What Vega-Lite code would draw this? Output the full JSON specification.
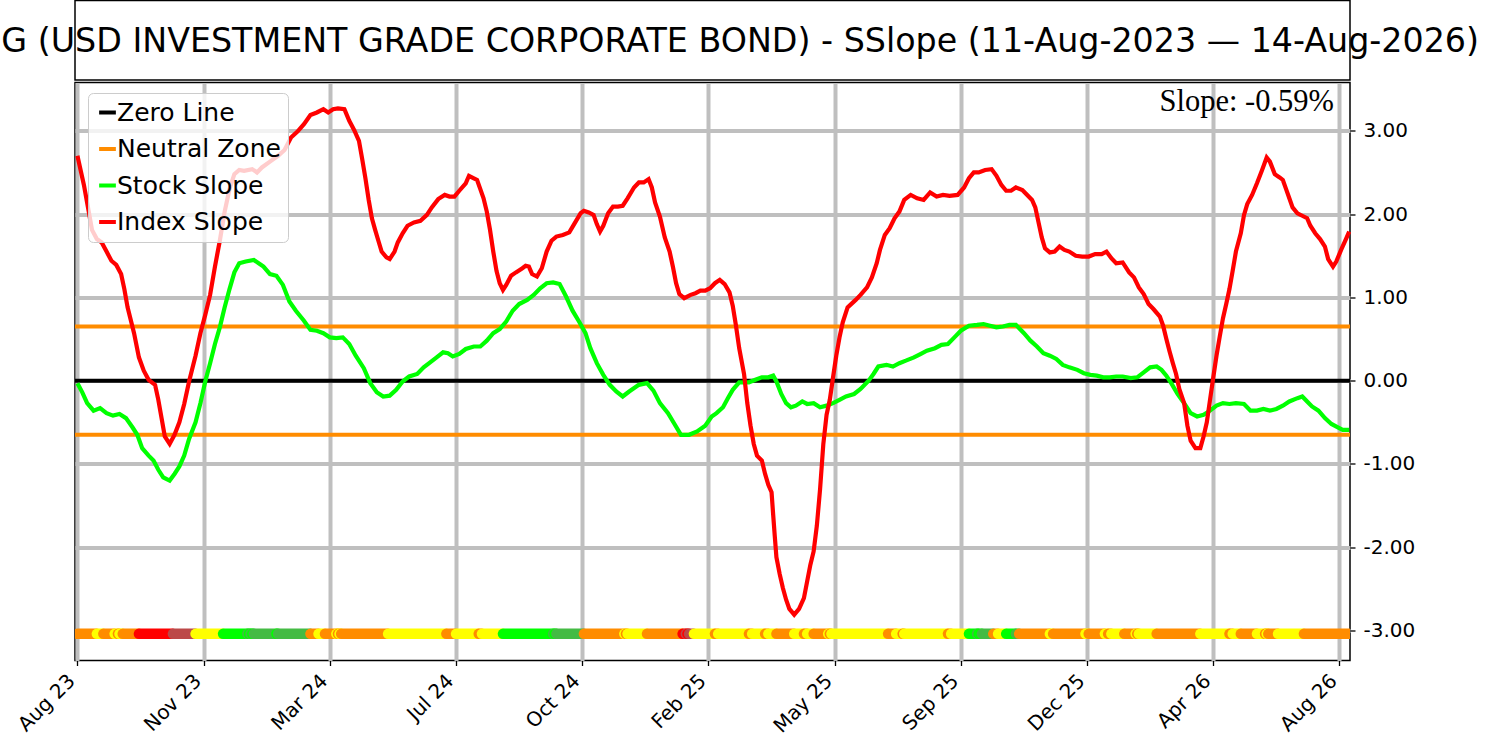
{
  "$schema": "https://vega.github.io/schema/vega-lite/v6.json",
  "padding": {"left": -55, "top": -0.5, "right": 5, "bottom": 0},
  "background": "white",
  "spacing": 0,
  "config": {
    "view": {"stroke": "black", "strokeWidth": 1.5},
    "axis": {"labelFont": "DejaVu Sans", "labelFontSize": 20, "labelColor": "black", "tickColor": "black", "tickWidth": 1.3, "tickSize": 5, "domain": false, "gridColor": "#bfbfbf", "gridWidth": 4, "gridOpacity": 1}
  },
  "datasets": {
    "levels": [
      {"level": "Zero Line", "y": 0},
      {"level": "Neutral Zone", "y": 0.65},
      {"level": "Neutral Zone", "y": -0.65}
    ],
    "index": [
      {"day":0,"value":2.70},{"day":4,"value":2.35},{"day":7,"value":2.03},{"day":9,"value":1.81},{"day":12,"value":1.70},{"day":15,"value":1.66},{"day":18,"value":1.55},{"day":21,"value":1.44},{"day":24,"value":1.39},{"day":27,"value":1.28},{"day":29,"value":1.10},{"day":31,"value":0.88},{"day":35,"value":0.57},{"day":38,"value":0.28},{"day":41,"value":0.12},{"day":44,"value":0.01},{"day":48,"value":-0.05},{"day":50,"value":-0.23},{"day":52,"value":-0.45},{"day":54,"value":-0.67},{"day":57,"value":-0.76},{"day":60,"value":-0.65},{"day":63,"value":-0.50},{"day":66,"value":-0.28},{"day":69,"value":-0.01},{"day":73,"value":0.30},{"day":76,"value":0.57},{"day":79,"value":0.79},{"day":82,"value":1.03},{"day":85,"value":1.37},{"day":88,"value":1.68},{"day":91,"value":2.03},{"day":94,"value":2.30},{"day":97,"value":2.48},{"day":100,"value":2.53},{"day":103,"value":2.52},{"day":108,"value":2.54},{"day":111,"value":2.50},{"day":114,"value":2.56},{"day":119,"value":2.63},{"day":124,"value":2.70},{"day":128,"value":2.77},{"day":132,"value":2.92},{"day":136,"value":2.99},{"day":140,"value":3.08},{"day":144,"value":3.19},{"day":148,"value":3.22},{"day":152,"value":3.26},{"day":155,"value":3.22},{"day":158,"value":3.26},{"day":161,"value":3.27},{"day":165,"value":3.26},{"day":168,"value":3.12},{"day":171,"value":3.01},{"day":174,"value":2.88},{"day":176,"value":2.66},{"day":178,"value":2.43},{"day":180,"value":2.17},{"day":182,"value":1.95},{"day":184,"value":1.81},{"day":186,"value":1.68},{"day":188,"value":1.55},{"day":191,"value":1.48},{"day":193,"value":1.46},{"day":196,"value":1.55},{"day":198,"value":1.66},{"day":201,"value":1.77},{"day":204,"value":1.86},{"day":208,"value":1.90},{"day":212,"value":1.92},{"day":216,"value":1.99},{"day":219,"value":2.08},{"day":223,"value":2.18},{"day":227,"value":2.23},{"day":230,"value":2.21},{"day":233,"value":2.21},{"day":236,"value":2.28},{"day":240,"value":2.37},{"day":242,"value":2.46},{"day":245,"value":2.43},{"day":247,"value":2.41},{"day":249,"value":2.30},{"day":251,"value":2.19},{"day":253,"value":2.03},{"day":255,"value":1.81},{"day":257,"value":1.55},{"day":259,"value":1.32},{"day":261,"value":1.17},{"day":263,"value":1.09},{"day":265,"value":1.15},{"day":268,"value":1.26},{"day":271,"value":1.30},{"day":275,"value":1.35},{"day":277,"value":1.38},{"day":279,"value":1.37},{"day":281,"value":1.28},{"day":284,"value":1.25},{"day":287,"value":1.35},{"day":290,"value":1.55},{"day":293,"value":1.68},{"day":296,"value":1.73},{"day":300,"value":1.75},{"day":304,"value":1.78},{"day":307,"value":1.88},{"day":311,"value":2.01},{"day":313,"value":2.04},{"day":316,"value":2.02},{"day":319,"value":1.99},{"day":321,"value":1.88},{"day":323,"value":1.79},{"day":325,"value":1.86},{"day":328,"value":2.01},{"day":331,"value":2.09},{"day":334,"value":2.09},{"day":337,"value":2.10},{"day":340,"value":2.19},{"day":344,"value":2.32},{"day":347,"value":2.38},{"day":350,"value":2.38},{"day":353,"value":2.42},{"day":355,"value":2.32},{"day":357,"value":2.14},{"day":360,"value":1.97},{"day":363,"value":1.72},{"day":366,"value":1.55},{"day":368,"value":1.37},{"day":370,"value":1.17},{"day":372,"value":1.04},{"day":375,"value":0.99},{"day":379,"value":1.03},{"day":382,"value":1.05},{"day":385,"value":1.08},{"day":388,"value":1.08},{"day":391,"value":1.11},{"day":394,"value":1.17},{"day":397,"value":1.21},{"day":400,"value":1.16},{"day":403,"value":1.06},{"day":405,"value":0.90},{"day":407,"value":0.66},{"day":409,"value":0.39},{"day":412,"value":0.08},{"day":414,"value":-0.27},{"day":416,"value":-0.54},{"day":418,"value":-0.76},{"day":420,"value":-0.90},{"day":423,"value":-0.96},{"day":425,"value":-1.12},{"day":427,"value":-1.25},{"day":429,"value":-1.34},{"day":430,"value":-1.61},{"day":431,"value":-1.87},{"day":432,"value":-2.12},{"day":434,"value":-2.32},{"day":436,"value":-2.49},{"day":438,"value":-2.63},{"day":440,"value":-2.74},{"day":443,"value":-2.81},{"day":446,"value":-2.74},{"day":449,"value":-2.61},{"day":451,"value":-2.41},{"day":453,"value":-2.21},{"day":455,"value":-2.05},{"day":457,"value":-1.74},{"day":459,"value":-1.30},{"day":461,"value":-0.76},{"day":463,"value":-0.41},{"day":465,"value":-0.23},{"day":467,"value":0.04},{"day":469,"value":0.30},{"day":471,"value":0.52},{"day":473,"value":0.70},{"day":476,"value":0.88},{"day":481,"value":0.97},{"day":484,"value":1.03},{"day":488,"value":1.12},{"day":491,"value":1.24},{"day":494,"value":1.41},{"day":496,"value":1.57},{"day":499,"value":1.75},{"day":502,"value":1.83},{"day":505,"value":1.95},{"day":508,"value":2.03},{"day":511,"value":2.17},{"day":515,"value":2.23},{"day":519,"value":2.19},{"day":523,"value":2.17},{"day":527,"value":2.26},{"day":531,"value":2.21},{"day":535,"value":2.23},{"day":539,"value":2.22},{"day":544,"value":2.23},{"day":548,"value":2.32},{"day":551,"value":2.43},{"day":554,"value":2.50},{"day":557,"value":2.50},{"day":561,"value":2.53},{"day":565,"value":2.54},{"day":568,"value":2.46},{"day":571,"value":2.35},{"day":574,"value":2.28},{"day":577,"value":2.28},{"day":580,"value":2.32},{"day":584,"value":2.29},{"day":587,"value":2.23},{"day":590,"value":2.17},{"day":592,"value":2.08},{"day":594,"value":1.90},{"day":596,"value":1.72},{"day":598,"value":1.59},{"day":601,"value":1.54},{"day":604,"value":1.55},{"day":607,"value":1.61},{"day":610,"value":1.57},{"day":613,"value":1.55},{"day":617,"value":1.50},{"day":621,"value":1.49},{"day":625,"value":1.49},{"day":629,"value":1.52},{"day":633,"value":1.52},{"day":636,"value":1.55},{"day":639,"value":1.47},{"day":642,"value":1.41},{"day":646,"value":1.42},{"day":650,"value":1.30},{"day":653,"value":1.24},{"day":656,"value":1.12},{"day":659,"value":1.04},{"day":662,"value":0.92},{"day":665,"value":0.86},{"day":669,"value":0.77},{"day":671,"value":0.66},{"day":673,"value":0.50},{"day":675,"value":0.35},{"day":677,"value":0.21},{"day":679,"value":0.08},{"day":681,"value":-0.10},{"day":684,"value":-0.27},{"day":686,"value":-0.54},{"day":688,"value":-0.72},{"day":691,"value":-0.81},{"day":694,"value":-0.81},{"day":696,"value":-0.67},{"day":698,"value":-0.50},{"day":700,"value":-0.23},{"day":702,"value":0.04},{"day":704,"value":0.30},{"day":706,"value":0.53},{"day":708,"value":0.75},{"day":710,"value":0.92},{"day":712,"value":1.10},{"day":714,"value":1.32},{"day":716,"value":1.55},{"day":719,"value":1.77},{"day":721,"value":1.99},{"day":723,"value":2.12},{"day":726,"value":2.23},{"day":729,"value":2.37},{"day":732,"value":2.52},{"day":735,"value":2.68},{"day":737,"value":2.63},{"day":740,"value":2.48},{"day":743,"value":2.44},{"day":745,"value":2.41},{"day":747,"value":2.30},{"day":749,"value":2.19},{"day":751,"value":2.08},{"day":754,"value":2.01},{"day":757,"value":1.98},{"day":760,"value":1.95},{"day":762,"value":1.86},{"day":765,"value":1.77},{"day":768,"value":1.70},{"day":771,"value":1.61},{"day":773,"value":1.46},{"day":776,"value":1.37},{"day":778,"value":1.43},{"day":781,"value":1.57},{"day":784,"value":1.70},{"day":786,"value":1.79}
    ],
    "stock": [
      {"day":0,"value":-0.03},{"day":3,"value":-0.14},{"day":6,"value":-0.27},{"day":10,"value":-0.36},{"day":14,"value":-0.33},{"day":18,"value":-0.39},{"day":22,"value":-0.42},{"day":26,"value":-0.40},{"day":30,"value":-0.45},{"day":34,"value":-0.56},{"day":37,"value":-0.65},{"day":40,"value":-0.81},{"day":44,"value":-0.90},{"day":47,"value":-0.96},{"day":50,"value":-1.07},{"day":53,"value":-1.16},{"day":57,"value":-1.20},{"day":60,"value":-1.12},{"day":63,"value":-1.03},{"day":66,"value":-0.90},{"day":69,"value":-0.70},{"day":73,"value":-0.50},{"day":76,"value":-0.27},{"day":79,"value":-0.01},{"day":82,"value":0.21},{"day":85,"value":0.44},{"day":88,"value":0.64},{"day":91,"value":0.88},{"day":94,"value":1.10},{"day":97,"value":1.30},{"day":100,"value":1.41},{"day":104,"value":1.43},{"day":109,"value":1.45},{"day":112,"value":1.41},{"day":115,"value":1.37},{"day":119,"value":1.28},{"day":123,"value":1.26},{"day":127,"value":1.15},{"day":131,"value":0.95},{"day":135,"value":0.84},{"day":140,"value":0.72},{"day":144,"value":0.61},{"day":148,"value":0.60},{"day":152,"value":0.57},{"day":156,"value":0.52},{"day":160,"value":0.51},{"day":164,"value":0.52},{"day":168,"value":0.44},{"day":172,"value":0.30},{"day":177,"value":0.15},{"day":181,"value":-0.03},{"day":185,"value":-0.14},{"day":189,"value":-0.19},{"day":193,"value":-0.18},{"day":197,"value":-0.11},{"day":201,"value":-0.01},{"day":205,"value":0.05},{"day":210,"value":0.08},{"day":214,"value":0.16},{"day":218,"value":0.22},{"day":222,"value":0.28},{"day":226,"value":0.34},{"day":229,"value":0.33},{"day":232,"value":0.29},{"day":236,"value":0.32},{"day":240,"value":0.38},{"day":245,"value":0.41},{"day":249,"value":0.41},{"day":253,"value":0.48},{"day":257,"value":0.57},{"day":261,"value":0.62},{"day":265,"value":0.71},{"day":269,"value":0.84},{"day":273,"value":0.92},{"day":278,"value":0.97},{"day":282,"value":1.03},{"day":286,"value":1.11},{"day":290,"value":1.17},{"day":294,"value":1.18},{"day":298,"value":1.16},{"day":302,"value":1.01},{"day":306,"value":0.84},{"day":310,"value":0.71},{"day":314,"value":0.57},{"day":317,"value":0.39},{"day":321,"value":0.21},{"day":325,"value":0.07},{"day":329,"value":-0.05},{"day":333,"value":-0.13},{"day":337,"value":-0.19},{"day":341,"value":-0.13},{"day":347,"value":-0.05},{"day":352,"value":-0.03},{"day":356,"value":-0.12},{"day":360,"value":-0.27},{"day":365,"value":-0.39},{"day":369,"value":-0.52},{"day":373,"value":-0.65},{"day":378,"value":-0.65},{"day":383,"value":-0.61},{"day":388,"value":-0.54},{"day":392,"value":-0.43},{"day":395,"value":-0.39},{"day":399,"value":-0.32},{"day":402,"value":-0.21},{"day":405,"value":-0.11},{"day":409,"value":-0.02},{"day":415,"value":-0.02},{"day":419,"value":0.01},{"day":423,"value":0.04},{"day":427,"value":0.04},{"day":430,"value":0.06},{"day":432,"value":-0.01},{"day":435,"value":-0.16},{"day":438,"value":-0.27},{"day":441,"value":-0.32},{"day":444,"value":-0.30},{"day":448,"value":-0.25},{"day":451,"value":-0.28},{"day":455,"value":-0.27},{"day":459,"value":-0.32},{"day":463,"value":-0.30},{"day":467,"value":-0.27},{"day":471,"value":-0.23},{"day":475,"value":-0.19},{"day":480,"value":-0.16},{"day":484,"value":-0.10},{"day":489,"value":0.00},{"day":492,"value":0.08},{"day":495,"value":0.17},{"day":500,"value":0.19},{"day":504,"value":0.17},{"day":508,"value":0.21},{"day":512,"value":0.24},{"day":517,"value":0.28},{"day":521,"value":0.32},{"day":525,"value":0.36},{"day":530,"value":0.39},{"day":534,"value":0.43},{"day":538,"value":0.44},{"day":542,"value":0.52},{"day":546,"value":0.60},{"day":551,"value":0.66},{"day":556,"value":0.67},{"day":560,"value":0.68},{"day":564,"value":0.66},{"day":568,"value":0.64},{"day":572,"value":0.65},{"day":576,"value":0.67},{"day":580,"value":0.67},{"day":585,"value":0.57},{"day":589,"value":0.48},{"day":593,"value":0.41},{"day":597,"value":0.33},{"day":601,"value":0.30},{"day":605,"value":0.26},{"day":609,"value":0.19},{"day":613,"value":0.16},{"day":618,"value":0.13},{"day":622,"value":0.09},{"day":626,"value":0.07},{"day":630,"value":0.06},{"day":634,"value":0.04},{"day":638,"value":0.04},{"day":642,"value":0.05},{"day":646,"value":0.05},{"day":651,"value":0.03},{"day":655,"value":0.04},{"day":659,"value":0.10},{"day":663,"value":0.16},{"day":667,"value":0.17},{"day":670,"value":0.13},{"day":673,"value":0.06},{"day":676,"value":-0.03},{"day":680,"value":-0.16},{"day":685,"value":-0.30},{"day":688,"value":-0.39},{"day":692,"value":-0.43},{"day":696,"value":-0.41},{"day":700,"value":-0.36},{"day":704,"value":-0.30},{"day":708,"value":-0.27},{"day":712,"value":-0.28},{"day":716,"value":-0.27},{"day":721,"value":-0.28},{"day":725,"value":-0.36},{"day":729,"value":-0.36},{"day":733,"value":-0.34},{"day":737,"value":-0.36},{"day":741,"value":-0.34},{"day":745,"value":-0.30},{"day":749,"value":-0.25},{"day":754,"value":-0.21},{"day":757,"value":-0.19},{"day":760,"value":-0.25},{"day":763,"value":-0.31},{"day":767,"value":-0.36},{"day":771,"value":-0.45},{"day":775,"value":-0.52},{"day":779,"value":-0.56},{"day":782,"value":-0.59},{"day":786,"value":-0.59}
    ],
    "runs": [
      {"s":0,"e":12,"c":"#ff8c00"},{"s":12,"e":16,"c":"#ffff00"},{"s":16,"e":23,"c":"#ff8c00"},{"s":23,"e":25,"c":"#ffff00"},{"s":25,"e":26,"c":"#ff8c00"},{"s":26,"e":28,"c":"#ffff00"},{"s":28,"e":38,"c":"#ff8c00"},{"s":38,"e":59,"c":"#ff0000"},{"s":59,"e":73,"c":"#bc4848"},{"s":73,"e":90,"c":"#ffff00"},{"s":90,"e":105,"c":"#00ff00"},{"s":105,"e":106,"c":"#44bb44"},{"s":106,"e":107,"c":"#00ff00"},{"s":107,"e":108,"c":"#44bb44"},{"s":108,"e":109,"c":"#00ff00"},{"s":109,"e":123,"c":"#44bb44"},{"s":123,"e":124,"c":"#00ff00"},{"s":124,"e":144,"c":"#44bb44"},{"s":144,"e":149,"c":"#ff8c00"},{"s":149,"e":153,"c":"#ffff00"},{"s":153,"e":160,"c":"#ff8c00"},{"s":160,"e":161,"c":"#ffff00"},{"s":161,"e":162,"c":"#ff8c00"},{"s":162,"e":163,"c":"#ffff00"},{"s":163,"e":192,"c":"#ff8c00"},{"s":192,"e":228,"c":"#ffff00"},{"s":228,"e":234,"c":"#ff8c00"},{"s":234,"e":248,"c":"#ffff00"},{"s":248,"e":250,"c":"#ff8c00"},{"s":250,"e":263,"c":"#ffff00"},{"s":263,"e":294,"c":"#00ff00"},{"s":294,"e":295,"c":"#44bb44"},{"s":295,"e":296,"c":"#00ff00"},{"s":296,"e":313,"c":"#44bb44"},{"s":313,"e":338,"c":"#ff8c00"},{"s":338,"e":339,"c":"#ffff00"},{"s":339,"e":340,"c":"#ff8c00"},{"s":340,"e":352,"c":"#ffff00"},{"s":352,"e":374,"c":"#ff8c00"},{"s":374,"e":376,"c":"#ff0000"},{"s":376,"e":377,"c":"#bc4848"},{"s":377,"e":378,"c":"#ff0000"},{"s":378,"e":381,"c":"#bc4848"},{"s":381,"e":394,"c":"#ffff00"},{"s":394,"e":396,"c":"#ff8c00"},{"s":396,"e":415,"c":"#ffff00"},{"s":415,"e":417,"c":"#ff8c00"},{"s":417,"e":425,"c":"#ffff00"},{"s":425,"e":427,"c":"#ff8c00"},{"s":427,"e":432,"c":"#ffff00"},{"s":432,"e":443,"c":"#ff8c00"},{"s":443,"e":449,"c":"#ffff00"},{"s":449,"e":451,"c":"#ff8c00"},{"s":451,"e":455,"c":"#ffff00"},{"s":455,"e":464,"c":"#ff8c00"},{"s":464,"e":465,"c":"#ffff00"},{"s":465,"e":466,"c":"#ff8c00"},{"s":466,"e":501,"c":"#ffff00"},{"s":501,"e":506,"c":"#ff8c00"},{"s":506,"e":510,"c":"#ffff00"},{"s":510,"e":511,"c":"#ff8c00"},{"s":511,"e":538,"c":"#ffff00"},{"s":538,"e":540,"c":"#ff8c00"},{"s":540,"e":551,"c":"#ffff00"},{"s":551,"e":556,"c":"#00ff00"},{"s":556,"e":557,"c":"#44bb44"},{"s":557,"e":559,"c":"#00ff00"},{"s":559,"e":566,"c":"#44bb44"},{"s":566,"e":569,"c":"#ff8c00"},{"s":569,"e":574,"c":"#ffff00"},{"s":574,"e":580,"c":"#00ff00"},{"s":580,"e":582,"c":"#44bb44"},{"s":582,"e":601,"c":"#ff8c00"},{"s":601,"e":603,"c":"#ffff00"},{"s":603,"e":623,"c":"#ff8c00"},{"s":623,"e":625,"c":"#ffff00"},{"s":625,"e":635,"c":"#ff8c00"},{"s":635,"e":637,"c":"#ffff00"},{"s":637,"e":639,"c":"#ff8c00"},{"s":639,"e":647,"c":"#ffff00"},{"s":647,"e":654,"c":"#ff8c00"},{"s":654,"e":655,"c":"#ffff00"},{"s":655,"e":656,"c":"#ff8c00"},{"s":656,"e":667,"c":"#ffff00"},{"s":667,"e":694,"c":"#ff8c00"},{"s":694,"e":712,"c":"#ffff00"},{"s":712,"e":714,"c":"#ff8c00"},{"s":714,"e":719,"c":"#ffff00"},{"s":719,"e":729,"c":"#ff8c00"},{"s":729,"e":734,"c":"#ffff00"},{"s":734,"e":735,"c":"#ff8c00"},{"s":735,"e":736,"c":"#ffff00"},{"s":736,"e":742,"c":"#ff8c00"},{"s":742,"e":758,"c":"#ffff00"},{"s":758,"e":786,"c":"#ff8c00"}
    ]
  },
  "vconcat": [
    {
      "width": 1275,
      "height": 79.5,
      "data": {"values": [{"title": "USIG (USD INVESTMENT GRADE CORPORATE BOND) - SSlope (11-Aug-2023 — 14-Aug-2026)"}]},
      "mark": {"type": "text", "font": "DejaVu Sans", "fontSize": 33.3, "align": "center", "baseline": "middle", "dy": 2, "color": "black"},
      "encoding": {
        "x": {"datum": 0.5, "type": "quantitative", "scale": {"domain": [0, 1]}, "axis": null, "title": null},
        "y": {"datum": 0.5, "type": "quantitative", "scale": {"domain": [0, 1]}, "axis": null, "title": null},
        "text": {"field": "title", "type": "nominal"}
      }
    },
    {
      "width": 1275,
      "height": 578,
      "layer": [
        {
          "data": {"name": "levels"},
          "mark": {"type": "rule", "strokeWidth": 4},
          "encoding": {
            "y": {"field": "y", "type": "quantitative", "title": null,
                  "scale": {"domain": [-3.36, 3.58], "nice": false, "zero": false},
                  "axis": {"orient": "right", "values": [-3, -2, -1, 0, 1, 2, 3], "grid": true, "labelPadding": 8,
                           "labelExpr": "replace(format(datum.value, '.2f'), '\u2212', '-')"}},
            "color": {"field": "level", "type": "nominal",
                      "scale": {"domain": ["Zero Line", "Neutral Zone", "Stock Slope", "Index Slope"], "range": ["#000000", "#ff8c00", "#00ff00", "#ff0000"]},
                      "legend": {"title": null, "orient": "none", "legendX": 13, "legendY": 92.5, "labelFont": "DejaVu Sans", "labelFontSize": 25, "labelColor": "black", "labelLimit": 400,
                                 "symbolType": "stroke", "symbolSize": 280, "symbolStrokeWidth": 4, "rowPadding": 10.5, "labelOffset": -3, "padding": 7,
                                 "fillColor": "rgba(255,255,255,0.8)", "strokeColor": "#cccccc", "cornerRadius": 5}}
          }
        },
        {
          "data": {"name": "stock"},
          "mark": {"type": "line", "strokeWidth": 4.2},
          "encoding": {
            "x": {"field": "day", "type": "quantitative", "title": null,
                  "scale": {"domain": [-1.5, 786.5], "nice": false, "zero": false},
                  "axis": {"values": [0, 78, 156, 234, 312, 390, 468, 546, 624, 702, 780], "grid": true, "labelAngle": -45, "labelOffset": -13, "labelPadding": 5,
                           "labelExpr": "['Aug 23','Nov 23','Mar 24','Jul 24','Oct 24','Feb 25','May 25','Sep 25','Dec 25','Apr 26','Aug 26'][round(datum.value / 78)]"}},
            "y": {"field": "value", "type": "quantitative", "title": null},
            "color": {"datum": "Stock Slope", "type": "nominal"}
          }
        },
        {
          "data": {"name": "index"},
          "mark": {"type": "line", "strokeWidth": 4.2},
          "encoding": {
            "x": {"field": "day", "type": "quantitative", "title": null},
            "y": {"field": "value", "type": "quantitative", "title": null},
            "color": {"datum": "Index Slope", "type": "nominal"}
          }
        },
        {
          "data": {"name": "runs"},
          "mark": {"type": "rule", "strokeWidth": 10.5, "strokeCap": "round", "clip": true},
          "encoding": {
            "x": {"field": "s", "type": "quantitative", "title": null},
            "x2": {"field": "e"},
            "y": {"datum": -3.04, "type": "quantitative", "title": null},
            "stroke": {"field": "c", "type": "nominal", "scale": null, "legend": null}
          }
        },
        {
          "data": {"values": [{"label": "Slope: -0.59%"}]},
          "mark": {"type": "text", "font": "Liberation Serif", "fontSize": 30.5, "align": "right", "baseline": "alphabetic", "color": "black"},
          "encoding": {
            "x": {"datum": 776.6, "type": "quantitative", "title": null},
            "y": {"datum": 3.234, "type": "quantitative", "title": null},
            "text": {"field": "label", "type": "nominal"}
          }
        }
      ]
    }
  ]
}
